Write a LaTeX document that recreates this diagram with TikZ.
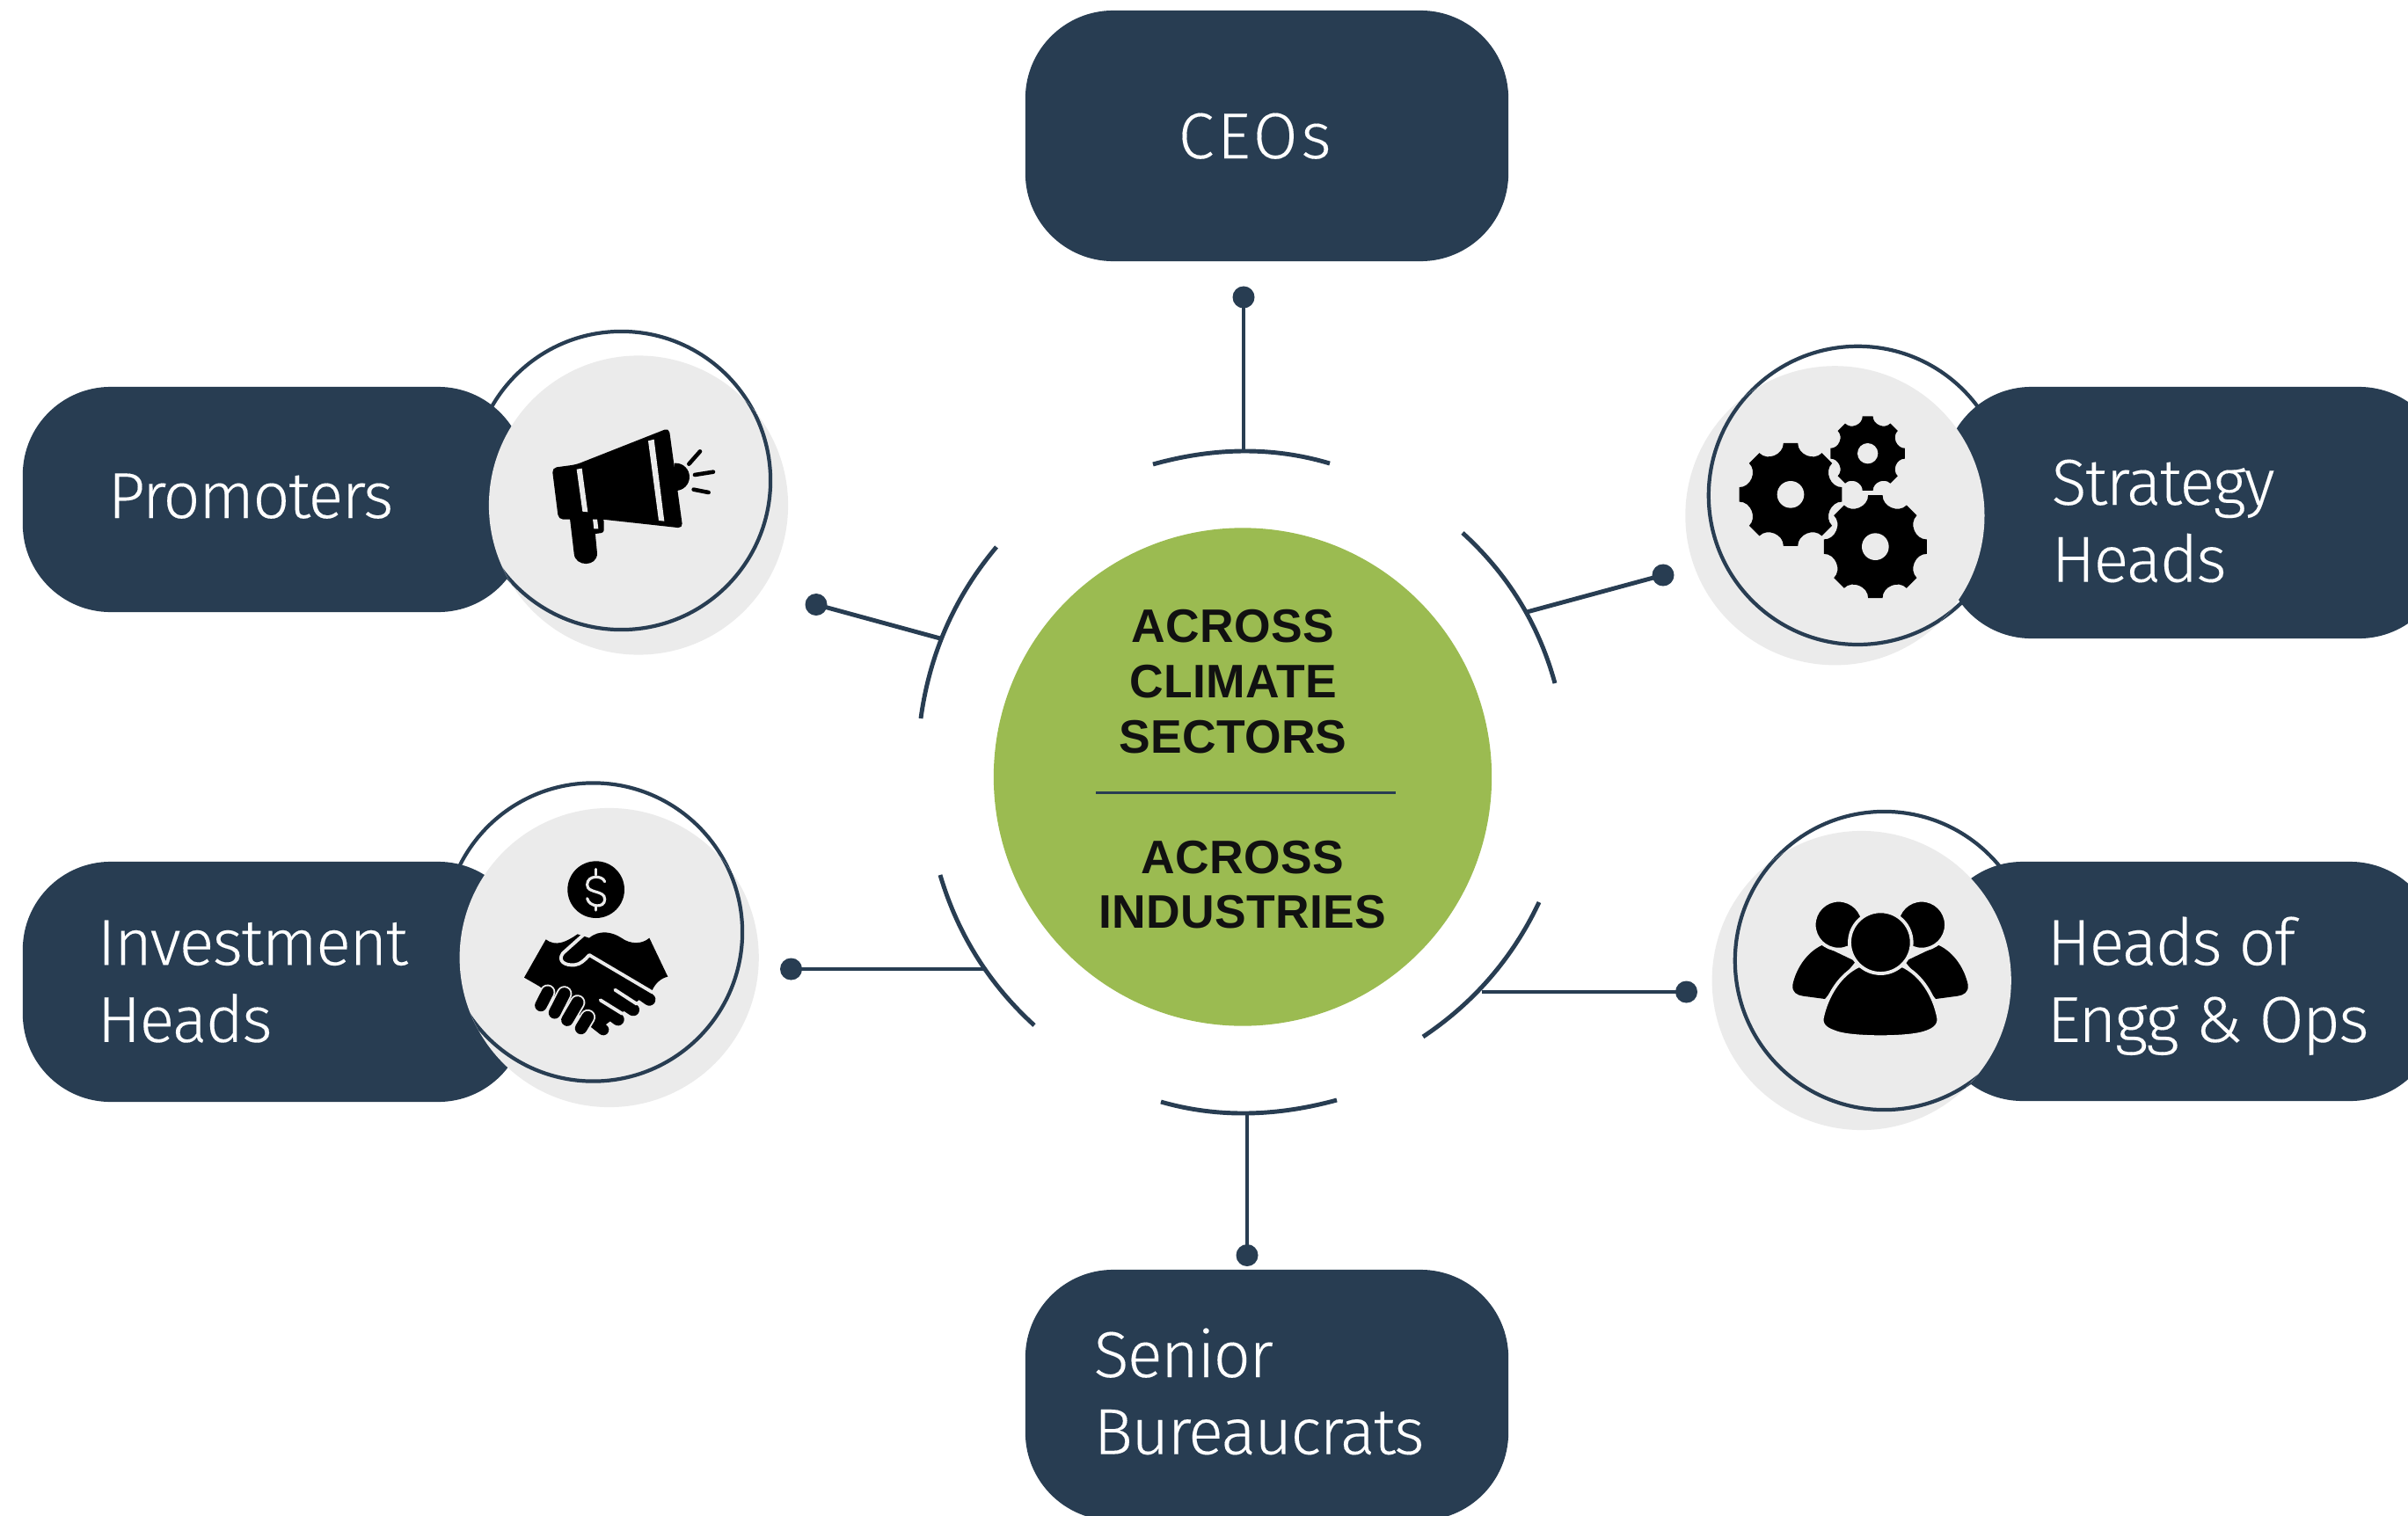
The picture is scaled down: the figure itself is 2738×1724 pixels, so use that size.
\documentclass[tikz,border=0pt]{standalone}
\usepackage{fontspec}
\usetikzlibrary{calc}
\setmainfont{Noto Sans}
\newfontfamily\labfont{Fira Sans Light}[LetterSpace=-2.2,FakeBold=0.15]
\newfontfamily\capfont{Fira Sans Light}[LetterSpace=5,FakeBold=0.15]
\newfontfamily\midfont{Liberation Sans}[BoldFont={Liberation Sans Bold},BoldFeatures={LetterSpace=0.6}]
\definecolor{navy}{HTML}{283D52}
\definecolor{leaf}{HTML}{9BBB51}
\definecolor{pale}{HTML}{EBEBEB}
\definecolor{ink}{HTML}{111111}
\tikzset{
  boxwide/.style={draw=none,fill=navy,rounded corners=1cm,minimum width=5.49cm,minimum height=2.85cm,inner sep=0pt},
  boxside/.style={draw=none,fill=navy,rounded corners=1cm,minimum width=5.72cm,inner sep=0pt},
  blob/.style={circle,fill=pale,minimum size=3.4cm,inner sep=0pt},
  ringline/.style={circle,draw=navy,line width=1.2pt,minimum size=3.39cm,inner sep=0pt},
  lab/.style={text=white,anchor=base west,inner sep=0pt,font=\labfont\fontsize{21}{24.9}\selectfont},
  mid/.style={text=ink,anchor=base,inner sep=0pt,font=\midfont\bfseries\fontsize{15.2}{18}\selectfont},
  conn/.style={draw=navy,line width=1.4pt},
  dot/.style={circle,fill=navy,minimum size=0.25cm,inner sep=0pt},
  hole/.style={fill=pale},
}
\newcommand\twolines[2]{\vtop{\hbox{#1}\hbox{#2}}}
\newcommand\bogen[3]{%
  \coordinate (q) at ($2*(#2)-0.5*(#1)-0.5*(#3)$);
  \draw[conn] (#1) .. controls ($(#1)!2/3!(q)$) and ($(#3)!2/3!(q)$) .. (#3);}
\newcommand\cog[4]{%
  \begin{scope}[shift={(#1,#2)},scale=#3]
  \fill[black] (-8:1) \foreach \gang in {0,45,...,315}{
     -- ({\gang+8}:1) .. controls ({\gang+10}:.78) and ({\gang+35}:.78) .. ({\gang+37}:1)} -- cycle;
  \end{scope}
  \fill[hole] (#1,#2) circle (#4);}
\begin{document}
\begin{tikzpicture}[x=0.01cm,y=-0.01cm]
\useasboundingbox (0,0) rectangle (2738,1724);
\clip (0,0) rectangle (2738,1724);

% centre
\node[circle,fill=leaf,minimum size=5.66cm,inner sep=0pt] (hub) at (1413,883.5) {};
\node[mid] (t1) at (1402,730) {ACROSS};
\node[mid] (t2) at (1402,793) {CLIMATE};
\node[mid] (t3) at (1402,856.5) {SECTORS};
\node[mid] (t4) at (1413,993) {ACROSS};
\node[mid] (t5) at (1413,1055.5) {INDUSTRIES};
\coordinate (sl) at (1246,901.4);
\coordinate (sr) at (1587,901.4);
\draw[conn,line width=1.05pt] (sl) -- (sr);

% wide boxes
\node[boxwide] (ceo) at (1440.5,154.5) {};
\node[lab,font=\capfont\fontsize{21}{24.9}\selectfont] (ceot) at (1339,180) {CEOs};
\node[boxwide] (sen) at (1440.5,1586.5) {};
\node[lab] (sent) at (1243,1566) {\twolines{Senior}{Bureaucrats}};

% promoters
\node[ringline] (r1) at (706.5,546.5) {};
\node[boxside,minimum height=2.56cm] (b1) at (312,568) {};
\node[blob] (g1) at (726,574.5) {};
\begin{scope}\clip (726,574.5) circle (170);\node[ringline] at (706.5,546.5) {};\end{scope}
\node[lab] (t1l) at (122,589) {Promoters};

% strategy
\node[ringline] (r2) at (2112.4,563.4) {};
\node[boxside,minimum height=2.86cm] (b2) at (2496,583) {};
\node[blob] (g2) at (2086.4,586.3) {};
\begin{scope}\clip (2086.4,586.3) circle (170);\node[ringline] at (2112.4,563.4) {};\end{scope}
\node[lab] (t2l) at (2332,574) {\twolines{Strategy}{Heads}};

% investment
\node[ringline] (r3) at (674.5,1060) {};
\node[boxside,minimum height=2.73cm] (b3) at (312,1116.5) {};
\node[blob] (g3) at (692.7,1089) {};
\begin{scope}\clip (692.7,1089) circle (170);\node[ringline] at (674.5,1060) {};\end{scope}
\node[lab] (t3l) at (110,1097.3) {\twolines{Investment}{Heads}};

% heads
\node[ringline] (r4) at (2142.4,1092.5) {};
\node[boxside,minimum height=2.72cm] (b4) at (2486,1116) {};
\node[blob] (g4) at (2116.7,1115) {};
\begin{scope}\clip (2116.7,1115) circle (170);\node[ringline] at (2142.4,1092.5) {};\end{scope}
\node[lab] (t4l) at (2327,1097.3) {\twolines{Heads of}{Engg \& Ops}};

% arcs
\coordinate (a1) at (1311,528); \coordinate (m1) at (1414,513); \coordinate (e1) at (1512,527);
\bogen{a1}{m1}{e1}
\coordinate (a2) at (1663,606); \coordinate (m2) at (1728,684); \coordinate (e2) at (1768,777);
\bogen{a2}{m2}{e2}
\coordinate (a3) at (1133,622); \coordinate (m3) at (1076,713); \coordinate (e3) at (1047,817);
\bogen{a3}{m3}{e3}
\coordinate (a4) at (1069,995); \coordinate (m4) at (1110.6,1088); \coordinate (e4) at (1176,1166);
\bogen{a4}{m4}{e4}
\coordinate (a5) at (1750,1026); \coordinate (m5) at (1694.6,1111.6); \coordinate (e5) at (1618,1179);
\bogen{a5}{m5}{e5}
\coordinate (a6) at (1320,1253); \coordinate (m6) at (1417,1266); \coordinate (e6) at (1520,1251);
\bogen{a6}{m6}{e6}

% connectors
\node[dot] (d1) at (1414,338) {};
\coordinate (j1) at (1414,513);
\draw[conn] (d1.center) -- (j1);
\node[dot] (d2) at (1891,654) {};
\coordinate (j2) at (1736,696);
\draw[conn] (d2.center) -- (j2);
\node[dot] (d3) at (928,687.5) {};
\coordinate (j3) at (1069,726);
\draw[conn] (d3.center) -- (j3);
\node[dot] (d4) at (899.5,1102) {};
\coordinate (j4) at (1118,1102);
\draw[conn] (d4.center) -- (j4);
\node[dot] (d5) at (1917.5,1128) {};
\coordinate (j5) at (1685,1128);
\draw[conn] (d5.center) -- (j5);
\node[dot] (d6) at (1418,1427.5) {};
\coordinate (j6) at (1418,1266);
\draw[conn] (d6.center) -- (j6);

% megaphone
\begin{scope}[shift={(500,340)},scale=1/3]
\begin{scope}\clip (800,540) rectangle (860,670);\fill[black] (805,607) circle (47);\end{scope}
\fill[black] (443,740) -- (458,868) .. controls (461,915) and (537,915) .. (537,868) -- (525,740) -- cycle;
\fill[black,rounded corners=0.8pt] (520,745) -- (560,750) -- (560,797) -- (525,802) -- cycle;
\fill[hole] (522,750) -- (537,750) -- (541,784) -- (526,784) -- cycle;
\fill[black,rounded corners=1.5pt] (383,576) -- (465,565) -- (782,440) -- (829,782) -- (555,752) -- (405,752) -- cycle;
\fill[hole] (467,581) -- (485,578) -- (505,727) -- (487,725) -- cycle;
\fill[hole] (711,484) -- (731,479) -- (766,758) -- (747,756) -- cycle;
\draw[black,line width=1.3pt,line cap=round] (850,563) -- (888,520);
\draw[black,line width=1.3pt,line cap=round] (870,600) -- (933,590);
\draw[black,line width=1.3pt,line cap=round] (866,650) -- (917,660);
\end{scope}

% gears
\begin{scope}[shift={(1920,380)},scale=1/3]
\cog{348}{547}{177}{46}
\cog{637}{725}{177}{46}
\cog{611}{407}{128}{35}
\end{scope}

% handshake
\begin{scope}[shift={(500,880)},scale=1/3]
\fill[black] (533,395) circle (97);
\draw[draw=pale,line width=0.9pt,line cap=round]
  (563,368) .. controls (555,345) and (503,345) .. (503,378)
  .. controls (503,410) and (563,395) .. (563,428)
  .. controls (563,460) and (510,455) .. (503,425);
\draw[draw=pale,line width=0.9pt,line cap=round] (533,325) -- (533,345) (533,450) -- (533,465);
\fill[black] (362,565) .. controls (395,590) and (430,575) .. (470,547)
  -- (510,560) .. controls (545,530) and (590,540) .. (620,560)
  .. controls (650,582) and (690,582) .. (715,560)
  -- (778,692) .. controls (755,697) and (735,715) .. (725,738)
  -- (560,860) -- (470,820) -- (340,725) -- (288,695) -- cycle;
\draw[black,line width=4pt,line cap=round] (600,690) -- (715,770);
\draw[black,line width=4pt,line cap=round] (540,725) -- (660,805);
\draw[black,line width=4pt,line cap=round] (500,755) -- (608,838);
\draw[black,line width=3.6pt,line cap=round] (510,835) -- (558,873);
\draw[pale,line width=1.1pt,line cap=round] (598,737) -- (672,785);
\draw[pale,line width=1.1pt,line cap=round] (548,772) -- (622,818);
\draw[pale,line width=1.1pt,line cap=round,line join=round]
  (495,545) -- (420,612) .. controls (400,640) and (430,655) .. (460,652)
  .. controls (480,650) and (495,635) .. (510,618) -- (725,745);
\foreach \fx/\fy/\gx/\gy in {345/790/368/745, 392/815/425/750, 435/840/470/780, 482/868/505/830}{
  \draw[pale,line width=5pt,line cap=round] (\fx,\fy) -- (\gx,\gy);
  \draw[black,line width=3.9pt,line cap=round] (\fx,\fy) -- (\gx,\gy);
}
\end{scope}

% people
\begin{scope}[shift={(1950,920)},scale=1/3]
\fill[black] (365,465) .. controls (310,490) and (275,550) .. (265,600)
  .. controls (262,625) and (280,635) .. (300,638) -- (375,648) -- (480,520) -- cycle;
\fill[black] (763,465) .. controls (818,490) and (853,550) .. (863,600)
  .. controls (866,625) and (848,635) .. (828,638) -- (753,648) -- (648,520) -- cycle;
\filldraw[fill=black,draw=pale,line width=1.1pt] (422,395) circle (84);
\filldraw[fill=black,draw=pale,line width=1.1pt] (705,395) circle (84);
\filldraw[fill=black,draw=pale,line width=1.1pt] (490,535) .. controls (425,565) and (380,640) .. (365,715)
  .. controls (362,745) and (390,755) .. (420,765)
  .. controls (480,782) and (650,782) .. (710,765)
  .. controls (745,755) and (765,740) .. (763,715)
  .. controls (750,640) and (705,565) .. (640,535) -- cycle;
\filldraw[fill=black,draw=pale,line width=1.1pt] (565,455) circle (106);
\end{scope}
\end{tikzpicture}
\end{document}
